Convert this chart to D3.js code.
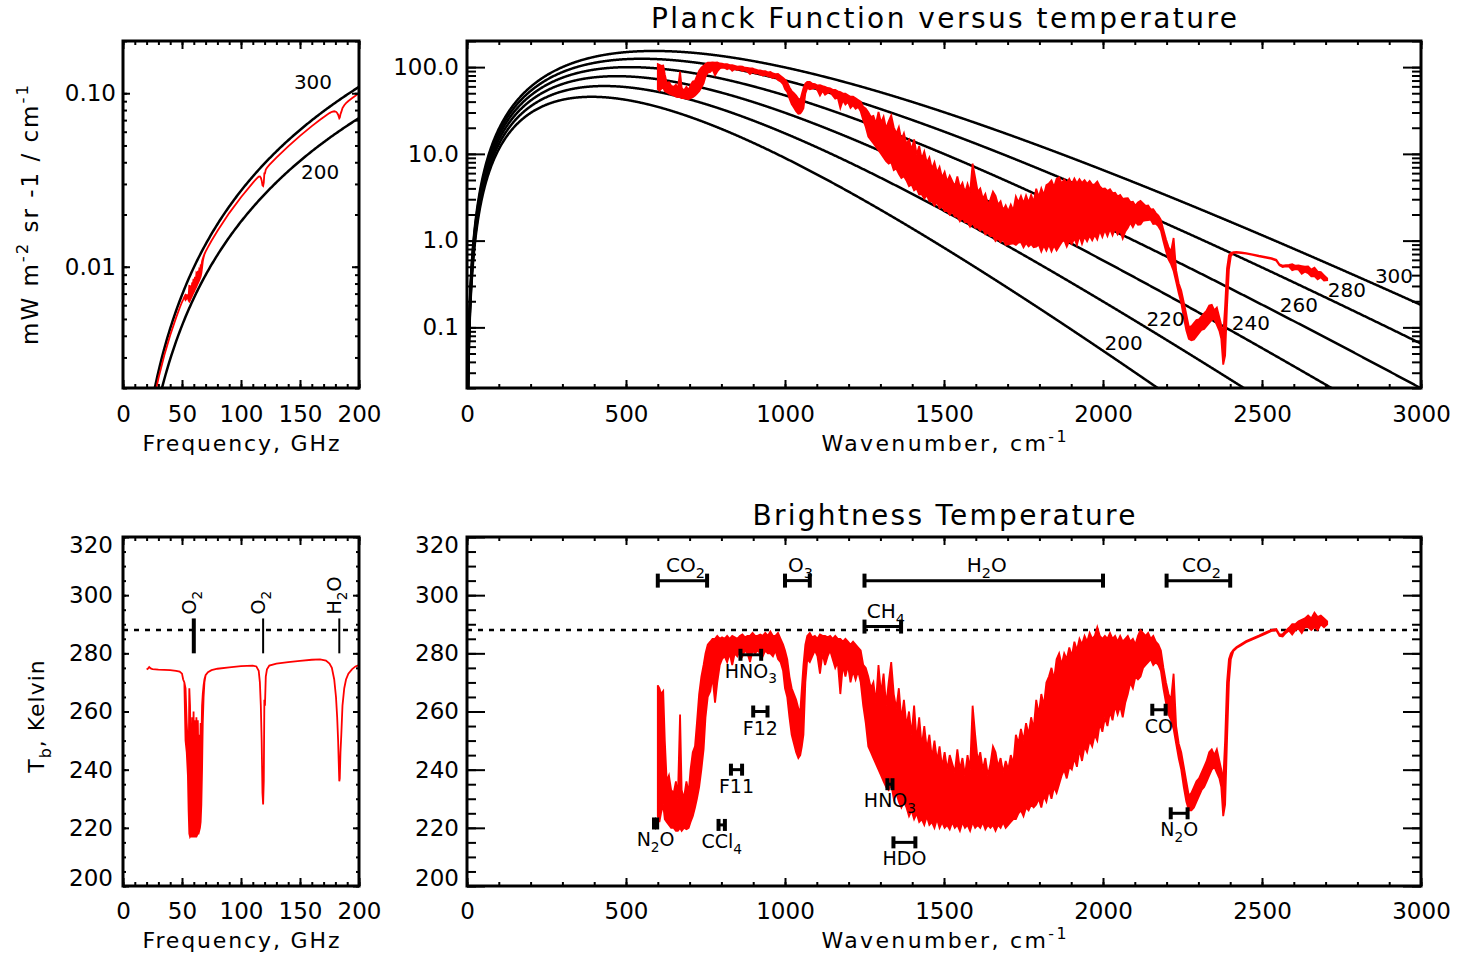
<!DOCTYPE html>
<html><head><meta charset="utf-8">
<script src="https://cdn.jsdelivr.net/npm/d3@7"></script>
<style>body{margin:0;background:#fff}svg text{font-family:"DejaVu Sans",sans-serif;fill:#000}</style>
</head><body><svg id="c" width="1459" height="963"></svg>
<script>
// ---------- DATA ----------
const planckTemps = [200, 220, 240, 260, 280, 300];
const mwTemps = [200, 300];
const trLabelT = ["200","220","240","260","280","300"];
const trLabelWn = [2065, 2197, 2465, 2616, 2767, 2915];
const trLabelRad = [0.066, 0.125, 0.112, 0.181, 0.270, 0.391];
const tlLabelT = ["300","200"];
const tlLabelGHz = [161, 167];
const tlLabelRad = [0.116, 0.0352];

// Microwave brightness temperature (GHz, upper / lower envelope, K)
const mwGHz = [20,21,22.2,23.5,25, 30,35,40,45,48, 50,51,52,53,54, 55,55.6,56.2,56.8,57.4,
  58,58.6,59.2,59.8,60.4, 61,61.6,62.2,62.8,63.4, 64,64.6,65.2,65.8,66.4, 67,67.6,68.3,69,70,
  72,75,80,90,100, 110,113,115,116,116.8, 117.5,118.2,118.75,119.3,119.8, 120.3,121,122,124,130,
  140,150,160,167,172, 175,177,179,180.5,181.5, 182.3,183,183.3,183.7,184.3, 185,186,187.5,189,191, 194,197,200];
const mwHi = [274.5,274.7,275.3,274.8,274.6, 274.4,274.3,274.2,274.0,273.7, 273,271,270,268,256, 248,240,268,262,245,
  232,258,247,260,240, 257,236,258,249,257, 240,252,243,256,250, 262,266,269,271,272.5,
  273.5,274.2,274.7,275.2,275.6, 275.8,275.5,274,270,262, 250,232,228,236,264, 262,272,274.5,275.8,276.5,
  277,277.4,277.8,277.9,277.5, 276.5,275,271,265,258, 250,240,236,237,246, 252,262,268,271,273, 274.5,275.5,276];
const mwLo = [274.5,274.7,275.3,274.8,274.6, 274.4,274.3,274.2,274.0,273.7, 273,271,270,250,246, 238,226,218,217,217.5,
  217,217,217.5,217,217, 217.5,217,217,217.5,218, 218,219,220,222,228, 240,256,265,270,272.5,
  273.5,274.2,274.7,275.2,275.6, 275.8,275.5,274,270,262, 250,232,228,236,264, 262,272,274.5,275.8,276.5,
  277,277.4,277.8,277.9,277.5, 276.5,275,271,265,258, 250,240,236,237,246, 252,262,268,271,273, 274.5,275.5,276];

// Infrared brightness temperature (cm-1, upper / lower envelope, K)
const irWn = [600,605,610,617,622,628,635,642,650,657,
 663,670,675,682,690,697,703,710,717,723,
 730,737,744,750,757,765,772,780,787,795,
 802,810,818,826,834,842,850,858,866,874,
 882,890,898,906,914,922,930,938,946,954,
 962,970,978,986,994,1000,1007,1014,1021,1028,
 1035,1042,1048,1053,1058,1064,1070,1078,1086,1094,
 1102,1110,1118,1126,1134,1142,1150,1158,1166,1174,
 1182,1190,1198,1206,1214,1222,1230,1238,1246,1254,
 1262,1270,1278,1286,1294,1302,1310,1318,1326,1334,
 1342,1350,1358,1366,1374,1382,1390,1398,1406,1414,
 1422,1430,1438,1446,1454,1462,1470,1478,1486,1494,
 1502,1510,1518,1526,1534,1542,1550,1558,1566,1574,
 1582,1590,1598,1606,1614,1622,1630,1638,1646,1654,
 1662,1670,1678,1686,1694,1702,1710,1718,1726,1734,
 1742,1750,1758,1766,1774,1782,1790,1798,1806,1814,
 1822,1830,1838,1846,1854,1862,1870,1878,1886,1894,
 1902,1910,1918,1926,1934,1942,1950,1958,1966,1974,
 1982,1990,1998,2006,2014,2022,2030,2038,2046,2054,
 2062,2070,2078,2086,2094,2102,2110,2118,2126,2134,
 2142,2150,2158,2166,2174,2182,2190,2198,2206,2214,
 2222,2230,2238,2246,2254,2262,2270,2278,2286,2294,
 2302,2310,2318,2326,2334,2342,2350,2358,2366,2372,
 2378,2384,2390,2396,2402,2410,2420,2435,2450,2470,
 2490,2510,2530,2545,2555,2565,2575,2585,2595,2605,
 2615,2625,2635,2645,2655,2665,2675,2685,2695,2705];
const irHi = [269,268,266,267,250,236,238,233,232,236,
 230,259,233,230,236,232,240,246,248,256,
 266,272,276,280,283,284,285,285,286,285,
 285.5,285,286,285,286,285.5,285,286,286.5,285.5,
 286,286,287,286,286,286.5,286,287,286,287.5,
 286,286,287,285,283,281,278,272,268,266,
 264,261,260,268,276,283,286,287,285.5,286,
 285,286.5,286,286,285.5,286,285,286,285,285,
 284,285,284,283,284,283,282,281,276,275,
 272,268,270,263,276,266,273,262,270,277,
 266,261,268,257,264,255,260,252,262,250,
 258,248,255,247,252,244,250,243,248,241,
 246,240,245,242,239,247,240,244,238,245,
 240,262,252,243,246,240,244,238,242,248,
 246,241,244,239,243,240,245,242,252,249,
 254,250,256,252,258,254,264,259,266,262,
 270,272,275,271,278,280,276,280,278,282,
 279,284,281,285,283,286,284,287,285,286,
 289,286,285,286,285,287,285,286,284,286,
 284,285,286,284,285,283,286,288,287,286,
 287,285,286,284,283,281,275,270,266,264,
 273,255,249,246,241,236,231,232,234,236,
 237,239,241,243,246,247,245,247,243,240,
 236,250,270,278,280,281.2,282.2,283.2,284.2,285.2,
 286.1,287.1,288.1,288.4,286.5,286.6,287.8,288.8,290,290,
 291,291.5,292,293,292,294,292.5,293,292,291];
const irLo = [224,222,225,228,223,222,221,220,220,219,
 219,220,219,220,219.5,220,222,224,227,230,
 234,240,247,258,265,267,272,263,270,276,
 278,279,277,280,276,280,279,281,279,281,
 280,277,281,280,281,280,279,281,280,280,
 279,281,278,277,274,268,265,258,252,249,
 246,244,245,248,252,270,278,277,279,281,
 279,273,280,276,279,281,278,275,277,266,
 276,272,276,270,274,271,274,270,262,256,
 248,246,244,242,240,238,236,234,233,235,
 230,232,229,227,229,227,224,226,223,225,
 222,223,221,224,221,222,220,223,220,222,
 220,221,219.5,222,220,221,219,222,220,221,
 219,222,220,221,220,222,219.5,221,220,221,
 219,221,220,222,220,221,222,223,223,225,
 226,224,227,226,228,227,228,230,227,231,
 229,233,230,234,232,235,238,240,237,241,
 240,244,241,247,243,248,246,250,248,252,
 250,256,253,258,255,260,257,262,259,262,
 258,263,266,270,268,272,271,272,275,276,
 277,278,276,277,276,274,268,263,259,257,
 254,249,244,240,234,229,226,226,227,229,
 231,233,234,236,238,240,241,239,237,234,
 224,228,250,270,278,280.8,281.8,282.8,283.8,284.8,
 285.7,286.7,287.7,287.9,286,285.8,287,287.8,286.5,288,
 288.5,287,289,289,288,289,288,290,289,290];

const surfaceT = 288;

const mwLineGHz = [60, 118.75, 183.31];
const mwLineName = [["O","2"], ["O","2"], ["H","2","O"]];
const mwLineWidth = [4, 2, 2];
const mwLineT = [280, 292];

const bandName = [["CO","2"], ["O","3"], ["H","2","O"], ["CO","2"], ["CH","4"]];
const bandStart = [600, 1000, 1250, 2200, 1250];
const bandEnd = [755, 1078, 2000, 2400, 1365];
const bandT = [305, 305, 305, 305, 289.2];

const spName = [["HNO","3"], ["F12"], ["F11"], ["N","2","O"], ["CCl","4"], ["HNO","3"], ["HDO"], ["CO"], ["N","2","O"]];
const spStart = [860, 900, 830, 588, 791, 1322, 1341, 2155, 2213];
const spEnd = [925, 945, 865, 598, 811, 1338, 1410, 2197, 2266];
const spT = [279.5, 260, 240, 221.5, 221, 235, 215, 260.6, 225];

const trYTicks = [0.1, 1, 10, 100];
const trYLabels = ["0.1", "1.0", "10.0", "100.0"];
const tlYTicks = [0.01, 0.1];
const tlYLabels = ["0.01", "0.10"];
const freqTicks = [0, 50, 100, 150, 200];
const wnTicks = [0, 500, 1000, 1500, 2000, 2500, 3000];
const tbTicks = [200, 220, 240, 260, 280, 300, 320];

// ---------- HELPERS ----------
const C1 = 1.191042e-5, C2 = 1.4387752, GHZ_PER_CM = 29.9792458;
const planck = (nu, T) => C1 * nu * nu * nu / Math.expm1(C2 * nu / T);
const svg = d3.select("#c");
const FONT = '"DejaVu Sans",sans-serif';
const RED = "#ff0000";

const PTL = {l:123, t:41, r:359, b:388};
const PTR = {l:467, t:41, r:1421, b:388};
const PBL = {l:123, t:537, r:359, b:886};
const PBR = {l:467, t:537, r:1421, b:886};

function rich(sel, x, y, parts, size, anchor, rot) {
  const t = sel.append("text").attr("font-size", size).attr("text-anchor", anchor || "middle");
  if (rot) t.attr("transform", `translate(${x},${y}) rotate(${rot})`);
  else t.attr("x", x).attr("y", y);
  let shift = 0;
  parts.forEach(p => {
    const s = Array.isArray(p) ? p[0] : p;
    const mode = Array.isArray(p) ? p[1] : null;
    const target = mode === "sup" ? -0.42 * size : mode === "sub" ? 0.3 * size : 0;
    const ts = t.append("tspan").text(s).attr("dy", target - shift);
    if (mode) ts.attr("font-size", size * 0.72);
    shift = target;
  });
  return t;
}
function chem(arr) {
  if (arr.length === 1) return [arr[0]];
  return arr.map((s, i) => (i % 2 === 1) ? [s, "sub"] : s);
}

function axes(g, x, y, P, o) {
  const mk = (axis, vals, len, fmt, tr, pad) => {
    const a = g.append("g").attr("transform", tr)
      .call(axis.tickValues(vals).tickSize(-len).tickPadding(pad || 0).tickFormat(fmt || (() => "")));
    a.select(".domain").remove();
    a.selectAll("line").attr("stroke", "#000").attr("stroke-width", 2);
    a.selectAll("text").attr("font-size", o.fs).attr("font-family", FONT).attr("fill", "#000");
    return a;
  };
  mk(d3.axisBottom(x), o.xMin, o.xLen[1], null, `translate(0,${P.b})`);
  mk(d3.axisBottom(x), o.xMaj, o.xLen[0], o.xFmt, `translate(0,${P.b})`, o.xPad);
  mk(d3.axisTop(x), o.xMin, o.xLen[1], null, `translate(0,${P.t})`);
  mk(d3.axisTop(x), o.xMaj, o.xLen[0], null, `translate(0,${P.t})`);
  mk(d3.axisLeft(y), o.yMin, o.yLen[1], null, `translate(${P.l},0)`);
  const yl = mk(d3.axisLeft(y), o.yMaj, o.yLen[0], o.yFmt, `translate(${P.l},0)`, o.yPad);
  mk(d3.axisRight(y), o.yMin, o.yLen[1], null, `translate(${P.r},0)`);
  mk(d3.axisRight(y), o.yMaj, o.yLen[0], null, `translate(${P.r},0)`);
  g.append("rect").attr("x", P.l).attr("y", P.t).attr("width", P.r - P.l).attr("height", P.b - P.t)
    .attr("fill", "none").attr("stroke", "#000").attr("stroke-width", 3);
  return yl;
}
function clip(id, P) {
  svg.append("clipPath").attr("id", id).append("rect")
    .attr("x", P.l).attr("y", P.t).attr("width", P.r - P.l).attr("height", P.b - P.t);
}
clip("cTL", PTL); clip("cTR", PTR); clip("cBL", PBL); clip("cBR", PBR);

// spectrum drawn as a filled band between lower and upper envelope
function spectrum(g, clipId, xs, hi, lo, xf, yf) {
  const idx = xs.map((_, i) => i);
  g.append("path").attr("clip-path", `url(#${clipId})`)
    .attr("d", d3.area().x(i => xf(xs[i])).y0(i => yf(xs[i], lo[i])).y1(i => yf(xs[i], hi[i]))(idx))
    .attr("fill", RED).attr("stroke", RED).attr("stroke-width", 1.8).attr("stroke-linejoin", "miter");
}
const logMinor = (lo, hi) => {
  const out = [];
  for (let e = Math.floor(Math.log10(lo)); e <= Math.ceil(Math.log10(hi)); e++)
    for (let m = 1; m <= 9; m++) { const v = m * Math.pow(10, e); if (v >= lo * 0.999 && v <= hi * 1.001) out.push(v); }
  return out;
};

// ---------- SCALES ----------
const xTL = d3.scaleLinear([0, 200], [PTL.l, PTL.r]);
const yTL = d3.scaleLog([0.002, 0.2], [PTL.b, PTL.t]);
const xTR = d3.scaleLinear([0, 3000], [PTR.l, PTR.r]);
const yTR = d3.scaleLog([0.02, 200], [PTR.b, PTR.t]);
const xBL = d3.scaleLinear([0, 200], [PBL.l, PBL.r]);
const yBL = d3.scaleLinear([200, 320], [PBL.b, PBL.t]);
const xBR = d3.scaleLinear([0, 3000], [PBR.l, PBR.r]);
const yBR = d3.scaleLinear([200, 320], [PBR.b, PBR.t]);

// ---------- TOP LEFT ----------
const gTL = svg.append("g");
const ghzGrid = d3.range(1, 200.5, 1);
mwTemps.forEach(T => {
  gTL.append("path").attr("clip-path", "url(#cTL)")
    .attr("d", d3.line().x(f => xTL(f)).y(f => yTL(planck(f / GHZ_PER_CM, T)))(ghzGrid))
    .attr("fill", "none").attr("stroke", "#000").attr("stroke-width", 2.5);
});
spectrum(gTL, "cTL", mwGHz, mwHi, mwLo, xTL, (f, T) => yTL(planck(f / GHZ_PER_CM, T)));
tlLabelT.forEach((s, i) => gTL.append("text").attr("x", xTL(tlLabelGHz[i])).attr("y", yTL(tlLabelRad[i]) + 7)
  .attr("text-anchor", "middle").attr("font-size", 20).text(s));
axes(gTL, xTL, yTL, PTL, {
  xMaj: freqTicks, xMin: d3.range(0, 201, 10), yMaj: tlYTicks, yMin: logMinor(0.002, 0.2),
  xFmt: d => String(d), yFmt: d => tlYLabels[tlYTicks.indexOf(d)], xLen: [8, 4], yLen: [7, 4], xPad: 18, yPad: 7, fs: 23
});

// ---------- TOP RIGHT ----------
const gTR = svg.append("g");
const wnGrid = [0.3, 0.6, 1].concat(d3.range(1.5, 3001, 1.5));
planckTemps.forEach(T => {
  gTR.append("path").attr("clip-path", "url(#cTR)")
    .attr("d", d3.line().x(n => xTR(n)).y(n => yTR(Math.max(planck(n, T), 1e-6)))(wnGrid))
    .attr("fill", "none").attr("stroke", "#000").attr("stroke-width", 2.5);
});
spectrum(gTR, "cTR", irWn, irHi, irLo, xTR, (n, T) => yTR(planck(n, T)));
trLabelT.forEach((s, i) => gTR.append("text").attr("x", xTR(trLabelWn[i])).attr("y", yTR(trLabelRad[i]) + 7)
  .attr("text-anchor", "middle").attr("font-size", 20).text(s));
axes(gTR, xTR, yTR, PTR, {
  xMaj: wnTicks, xMin: d3.range(0, 3001, 100), yMaj: trYTicks, yMin: logMinor(0.02, 200),
  xFmt: d => String(d), yFmt: d => trYLabels[trYTicks.indexOf(d)], xLen: [8, 4], yLen: [18, 9], xPad: 18, yPad: 8, fs: 23
});

// ---------- BOTTOM LEFT ----------
const gBL = svg.append("g");
gBL.append("line").attr("x1", PBL.l).attr("x2", PBL.r).attr("y1", yBL(surfaceT)).attr("y2", yBL(surfaceT))
  .attr("stroke", "#000").attr("stroke-width", 2.5).attr("stroke-dasharray", "5,6");
mwLineGHz.forEach((f, i) => {
  gBL.append("line").attr("x1", xBL(f)).attr("x2", xBL(f)).attr("y1", yBL(mwLineT[0])).attr("y2", yBL(mwLineT[1]))
    .attr("stroke", "#000").attr("stroke-width", mwLineWidth[i]);
  rich(gBL, xBL(f) + 2, yBL(mwLineT[1]) - 4, chem(mwLineName[i]), 19, "start", -90);
});
spectrum(gBL, "cBL", mwGHz, mwHi, mwLo, xBL, (f, T) => yBL(T));
const ylBL = axes(gBL, xBL, yBL, PBL, {
  xMaj: freqTicks, xMin: d3.range(0, 201, 10), yMaj: tbTicks, yMin: d3.range(200, 321, 5),
  xFmt: d => String(d), yFmt: d => String(d), xLen: [8, 4], yLen: [6, 3], xPad: 17, yPad: 10, fs: 23
});
ylBL.selectAll("text").attr("y", d => d === 320 ? 8 : d === 200 ? -8 : 0);

// ---------- BOTTOM RIGHT ----------
const gBR = svg.append("g");
gBR.append("line").attr("x1", PBR.l).attr("x2", PBR.r).attr("y1", yBR(surfaceT)).attr("y2", yBR(surfaceT))
  .attr("stroke", "#000").attr("stroke-width", 2.5).attr("stroke-dasharray", "5,6");
spectrum(gBR, "cBR", irWn, irHi, irLo, xBR, (n, T) => yBR(T));
function hmark(g, a, b, T, h, w) {
  const y = yBR(T);
  g.append("line").attr("x1", xBR(a)).attr("x2", xBR(b)).attr("y1", y).attr("y2", y).attr("stroke", "#000").attr("stroke-width", w);
  [a, b].forEach(v => g.append("line").attr("x1", xBR(v)).attr("x2", xBR(v)).attr("y1", y - h).attr("y2", y + h)
    .attr("stroke", "#000").attr("stroke-width", w + 1));
}
bandName.forEach((n, i) => {
  hmark(gBR, bandStart[i], bandEnd[i], bandT[i], 7, 3);
  rich(gBR, (xBR(bandStart[i]) + xBR(bandEnd[i])) / 2 + 3, yBR(bandT[i]) - 9, chem(n), 20, "middle");
});
spName.forEach((n, i) => {
  hmark(gBR, spStart[i], spEnd[i], spT[i], 6, 3);
  rich(gBR, (xBR(spStart[i]) + xBR(spEnd[i])) / 2, yBR(spT[i]) + 23, chem(n), 19, "middle");
});
const ylBR = axes(gBR, xBR, yBR, PBR, {
  xMaj: wnTicks, xMin: d3.range(0, 3001, 100), yMaj: tbTicks, yMin: d3.range(200, 321, 5),
  xFmt: d => String(d), yFmt: d => String(d), xLen: [8, 4], yLen: [18, 9], xPad: 17, yPad: 8, fs: 23
});
ylBR.selectAll("text").attr("y", d => d === 320 ? 8 : d === 200 ? -8 : 0);

// ---------- TITLES ----------
const fit = (t, len) => t.attr("textLength", len).attr("lengthAdjust", "spacing");
fit(svg.append("text").attr("x", (PTR.l + PTR.r) / 2).attr("y", 28).attr("text-anchor", "middle")
  .attr("font-size", 28).text("Planck Function versus temperature"), 586);
fit(svg.append("text").attr("x", (PBR.l + PBR.r) / 2).attr("y", 525).attr("text-anchor", "middle")
  .attr("font-size", 28).text("Brightness Temperature"), 383);
fit(rich(svg, (PTL.l + PTL.r) / 2, 451, ["Frequency, GHz"], 22, "middle"), 197);
fit(rich(svg, (PBL.l + PBL.r) / 2, 948, ["Frequency, GHz"], 22, "middle"), 197);
fit(rich(svg, (PTR.l + PTR.r) / 2, 451, ["Wavenumber, cm", ["-1", "sup"]], 22, "middle"), 245);
fit(rich(svg, (PBR.l + PBR.r) / 2, 948, ["Wavenumber, cm", ["-1", "sup"]], 22, "middle"), 245);
fit(rich(svg, 38, 215, ["mW m", ["-2", "sup"], " sr -1 / cm", ["-1", "sup"]], 23, "middle", -90), 260);
rich(svg, 44, 716, ["T", ["b", "sub"], ", Kelvin"], 22, "middle", -90).attr("letter-spacing", 1);
</script></body></html>
